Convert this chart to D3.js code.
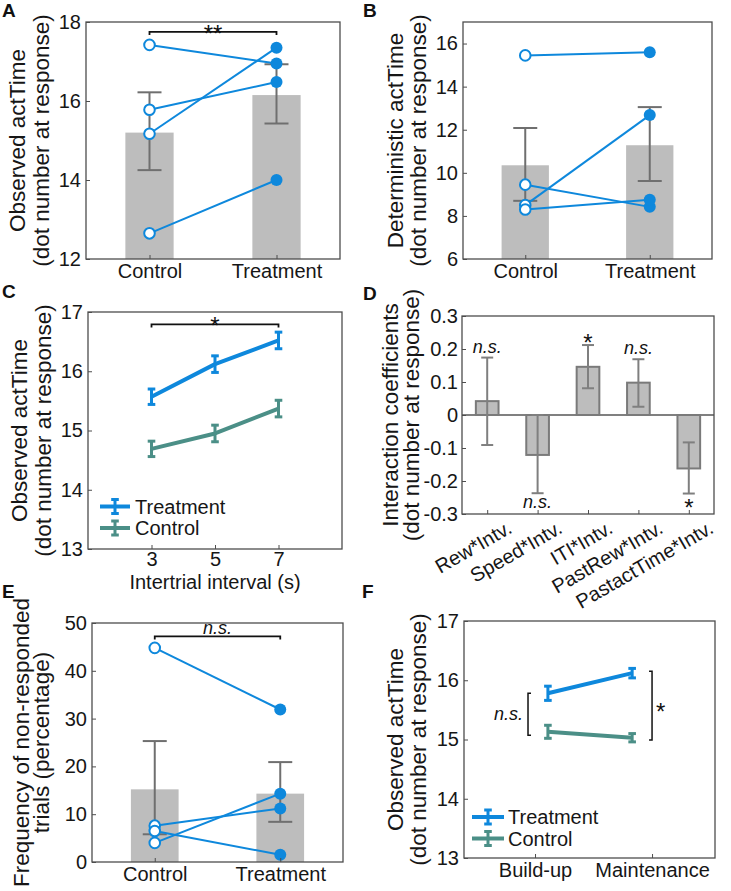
<!DOCTYPE html>
<html><head><meta charset="utf-8">
<script src="https://cdn.jsdelivr.net/npm/d3@7"></script>
<style>
body{margin:0;background:#fff}
svg{display:block}
text{font-family:"Liberation Sans",Arial,Helvetica,sans-serif}
</style>
</head><body>
<svg id="c" width="731" height="891"></svg>
<script>
// ---------- DATA ----------
// Panel A
const aCats = ["Control", "Treatment"];
const aBarMeans = [15.2, 16.15];
const aErrLow = [14.25, 15.43];
const aErrHigh = [16.22, 16.93];
const aControl = [17.42, 15.78, 15.17, 12.65];
const aTreatment = [16.95, 16.48, 17.35, 14.0];
const aTicks = [12, 14, 16, 18];
const aSig = {level: 17.75, label: "**"};
// Panel B
const bCats = ["Control", "Treatment"];
const bBarMeans = [10.35, 11.28];
const bErrLow = [8.7, 9.62];
const bErrHigh = [12.08, 13.05];
const bControl = [15.45, 9.45, 8.5, 8.3];
const bTreatment = [15.6, 8.42, 12.68, 8.75];
const bTicks = [6, 8, 10, 12, 14, 16];
// Panel C
const cITI = [3, 5, 7];
const cTreatMean = [15.57, 16.12, 16.52];
const cTreatErr = [0.13, 0.14, 0.14];
const cCtrlMean = [14.69, 14.95, 15.37];
const cCtrlErr = [0.13, 0.14, 0.14];
const cTicks = [13, 14, 15, 16, 17];
const cSig = {level: 16.79, label: "*"};
// Panel D
const dCats = ["Rew*Intv.", "Speed*Intv.", "ITI*Intv.", "PastRew*Intv.", "PastactTime*Intv."];
const dCoef = [0.042, -0.121, 0.146, 0.098, -0.162];
const dErrLow = [-0.091, -0.237, 0.081, 0.025, -0.238];
const dErrHigh = [0.174, 0.0, 0.212, 0.169, -0.083];
const dSig = ["n.s.", "n.s.", "*", "n.s.", "*"];
const dSigSide = ["above", "below", "above", "above", "below"];
const dTicks = [-0.3, -0.2, -0.1, 0, 0.1, 0.2, 0.3];
// Panel E
const eCats = ["Control", "Treatment"];
const eBarMeans = [15.2, 14.3];
const eErrLow = [5.8, 8.4];
const eErrHigh = [25.3, 20.9];
const eControl = [44.8, 7.6, 4.0, 6.5];
const eTreatment = [31.9, 11.2, 14.3, 1.5];
const eTicks = [0, 10, 20, 30, 40, 50];
const eSig = {level: 47.2, label: "n.s."};
// Panel F
const fPhases = ["Build-up", "Maintenance"];
const fX = [1.11, 1.83];
const fTreatMean = [15.78, 16.12];
const fTreatErr = [0.12, 0.08];
const fCtrlMean = [15.13, 15.03];
const fCtrlErr = [0.11, 0.07];
const fTicks = [13, 14, 15, 16, 17];
const fBracketLeft = {x: 0.94, span: [15.07, 15.78], label: "n.s."};
const fBracketRight = {x: 2.0, span: [14.99, 16.15], label: "*"};

// ---------- STYLE ----------
const BLUE = "#0e88dc", TEAL = "#4b8f87", BARFILL = "#bdbdbd", ERRGRAY = "#6f6f6f",
      AX = "#4d4d4d", TXT = "#161616";
const svg = d3.select("#c");

function makePanel(o) {
  const g = svg.append("g");
  const x = d3.scaleLinear().domain(o.xd).range([o.x0, o.x1]);
  const y = d3.scaleLinear().domain(o.yd).range([o.y1, o.y0]);
  return {g, x, y, o};
}
function axes(p, yt, xt, xf, yf, xpad, ypad) {
  const o = p.o;
  const ya = p.g.append("g").attr("transform", `translate(${o.x0},0)`)
    .call(d3.axisLeft(p.y).tickValues(yt).tickSizeInner(-4).tickSizeOuter(0).tickPadding(ypad || 5)
      .tickFormat(yf || (d => d)));
  const xa = p.g.append("g").attr("transform", `translate(0,${o.y1})`)
    .call(d3.axisBottom(p.x).tickValues(xt).tickSizeInner(-4).tickSizeOuter(0).tickPadding(xpad || 5)
      .tickFormat(xf || (d => d)));
  [ya, xa].forEach(a => {
    a.select(".domain").remove();
    a.selectAll("line").attr("stroke", AX).attr("stroke-width", 1);
    a.selectAll("text").attr("font-size", 20).attr("fill", TXT);
  });
  return {ya, xa};
}
function frame(p) {
  const o = p.o;
  p.g.append("rect").attr("x", o.x0).attr("y", o.y0).attr("width", o.x1 - o.x0).attr("height", o.y1 - o.y0)
    .attr("fill", "none").attr("stroke", AX).attr("stroke-width", 1.3);
}
function ylabel(p, lines, offs) {
  const o = p.o, cy = (o.y0 + o.y1) / 2;
  lines.forEach((t, i) => {
    p.g.append("text").attr("transform", `translate(${o.x0 - offs[i]},${cy}) rotate(-90)`)
      .attr("text-anchor", "middle").attr("font-size", 22.5).attr("fill", TXT).text(t);
  });
}
function panelLetter(t, x, y) {
  svg.append("text").attr("x", x).attr("y", y).attr("font-size", 19).attr("font-weight", "bold")
    .attr("fill", "#111").text(t);
}
function barPanel(p, means, lo, hi, ctrl, treat) {
  const x = p.x, y = p.y, hw = 0.19;
  const y0 = p.o.y1;
  p.g.selectAll(null).data(means).join("rect")
    .attr("x", (d, i) => x(i + 1 - hw)).attr("width", (d, i) => x(i + 1 + hw) - x(i + 1 - hw))
    .attr("y", d => y(d)).attr("height", d => y0 - y(d)).attr("fill", BARFILL);
  const eg = p.g.append("g").attr("stroke", ERRGRAY).attr("stroke-width", 2);
  means.forEach((m, i) => {
    const cx = x(i + 1);
    eg.append("line").attr("x1", cx).attr("x2", cx).attr("y1", y(lo[i])).attr("y2", y(hi[i]));
    [lo[i], hi[i]].forEach(v => eg.append("line").attr("x1", cx - 12).attr("x2", cx + 12).attr("y1", y(v)).attr("y2", y(v)));
  });
  ctrl.forEach((c, k) => {
    p.g.append("line").attr("x1", x(1)).attr("y1", y(c)).attr("x2", x(2)).attr("y2", y(treat[k]))
      .attr("stroke", BLUE).attr("stroke-width", 2);
  });
  p.g.selectAll(null).data(ctrl).join("circle").attr("cx", x(1)).attr("cy", d => y(d)).attr("r", 5.3)
    .attr("fill", "#fff").attr("stroke", BLUE).attr("stroke-width", 2);
  p.g.selectAll(null).data(treat).join("circle").attr("cx", x(2)).attr("cy", d => y(d)).attr("r", 6)
    .attr("fill", BLUE);
}
function sigBar(p, xa, xb, level, label, italic, size, dyText) {
  const y = p.y(level), x1 = p.x(xa), x2 = p.x(xb);
  p.g.append("path").attr("d", `M${x1},${y + 3}V${y}H${x2}V${y + 3}`)
    .attr("fill", "none").attr("stroke", "#111").attr("stroke-width", 1.8);
  p.g.append("text").attr("x", (x1 + x2) / 2).attr("y", y + dyText).attr("text-anchor", "middle")
    .attr("font-size", size).attr("font-style", italic ? "italic" : null).attr("fill", "#111").text(label);
}
function errLine(p, xs, means, errs, color) {
  const x = p.x, y = p.y;
  p.g.append("path").attr("d", d3.line()(xs.map((v, i) => [x(v), y(means[i])])))
    .attr("fill", "none").attr("stroke", color).attr("stroke-width", 4).attr("stroke-linejoin", "round");
  const eg = p.g.append("g").attr("stroke", color).attr("stroke-width", 3);
  xs.forEach((v, i) => {
    const cx = x(v);
    eg.append("line").attr("x1", cx).attr("x2", cx).attr("y1", y(means[i] - errs[i])).attr("y2", y(means[i] + errs[i]));
    [means[i] - errs[i], means[i] + errs[i]].forEach(e =>
      eg.append("line").attr("x1", cx - 3.8).attr("x2", cx + 3.8).attr("y1", y(e)).attr("y2", y(e)));
  });
}
function legend(p, dx0, dx1, dyT, dyC, dxText) {
  const o = p.o;
  [["Treatment", BLUE, dyT], ["Control", TEAL, dyC]].forEach(([t, c, dy]) => {
    const ly = o.y1 - dy, lx0 = o.x0 + dx0, lx1 = o.x0 + dx1, cx = (lx0 + lx1) / 2;
    const g = p.g.append("g").attr("stroke", c);
    g.append("line").attr("x1", lx0).attr("x2", lx1).attr("y1", ly).attr("y2", ly).attr("stroke-width", 4);
    g.append("line").attr("x1", cx).attr("x2", cx).attr("y1", ly - 7).attr("y2", ly + 7).attr("stroke-width", 3);
    [ly - 7, ly + 7].forEach(v => g.append("line").attr("x1", cx - 3.8).attr("x2", cx + 3.8).attr("y1", v).attr("y2", v).attr("stroke-width", 3));
    p.g.append("text").attr("x", o.x0 + dxText).attr("y", ly + 7).attr("font-size", 20).attr("fill", TXT).text(t);
  });
}

// ---------- PANEL A ----------
{
  const p = makePanel({x0: 86, x1: 340, y0: 22, y1: 259, xd: [0.5, 2.5], yd: [12, 18]});
  barPanel(p, aBarMeans, aErrLow, aErrHigh, aControl, aTreatment);
  frame(p);
  axes(p, aTicks, [1, 2], (d, i) => aCats[i]);
  sigBar(p, 1, 2, aSig.level, aSig.label, false, 24, 10);
  ylabel(p, ["Observed actTime", "(dot number at response)"], [61, 37]);
  panelLetter("A", 2, 17);
}
// ---------- PANEL B ----------
{
  const p = makePanel({x0: 463, x1: 712, y0: 22, y1: 259, xd: [0.5, 2.5], yd: [6, 17]});
  barPanel(p, bBarMeans, bErrLow, bErrHigh, bControl, bTreatment);
  frame(p);
  axes(p, bTicks, [1, 2], (d, i) => bCats[i]);
  ylabel(p, ["Deterministic actTime", "(dot number at response)"], [60, 37]);
  panelLetter("B", 363, 17);
}
// ---------- PANEL C ----------
{
  const p = makePanel({x0: 88, x1: 342, y0: 312, y1: 549, xd: [1, 9], yd: [13, 17]});
  frame(p);
  axes(p, cTicks, cITI, null, null, 3);
  errLine(p, cITI, cCtrlMean, cCtrlErr, TEAL);
  errLine(p, cITI, cTreatMean, cTreatErr, BLUE);
  sigBar(p, 3, 7, cSig.level, cSig.label, false, 24, 9.5);
  legend(p, 12, 42, 42.5, 21, 47);
  ylabel(p, ["Observed actTime", "(dot number at response)"], [61, 37]);
  p.g.append("text").attr("x", (p.o.x0 + p.o.x1) / 2).attr("y", 589).attr("text-anchor", "middle")
    .attr("font-size", 20).attr("fill", TXT).text("Intertrial interval (s)");
  panelLetter("C", 2, 298);
}
// ---------- PANEL D ----------
{
  const p = makePanel({x0: 462, x1: 714, y0: 316, y1: 514, xd: [0.5, 5.5], yd: [-0.3, 0.3]});
  const x = p.x, y = p.y;
  const idx = dCats.map((d, i) => i + 1);
  p.g.append("line").attr("x1", p.o.x0).attr("x2", p.o.x1).attr("y1", y(0)).attr("y2", y(0))
    .attr("stroke", "#808080").attr("stroke-width", 1.8);
  p.g.selectAll(null).data(dCoef).join("rect")
    .attr("x", (d, i) => x(i + 1 - 0.225)).attr("width", x(1.225) - x(0.775))
    .attr("y", d => y(Math.max(0, d))).attr("height", d => Math.abs(y(d) - y(0)))
    .attr("fill", BARFILL).attr("stroke", "#7a7a7a").attr("stroke-width", 2);
  const eg = p.g.append("g").attr("stroke", "#7f7f7f").attr("stroke-width", 2);
  dCoef.forEach((v, i) => {
    const cx = x(i + 1);
    eg.append("line").attr("x1", cx).attr("x2", cx).attr("y1", y(dErrLow[i])).attr("y2", y(dErrHigh[i]));
    [dErrLow[i], dErrHigh[i]].forEach(e => eg.append("line").attr("x1", cx - 6).attr("x2", cx + 6).attr("y1", y(e)).attr("y2", y(e)));
  });
  frame(p);
  axes(p, dTicks, idx, () => "", null, 5, 4);
  dCats.forEach((t, i) => {
    p.g.append("text").attr("transform", `translate(${x(i + 1) + 26},${p.o.y1 + 18}) rotate(-30)`)
      .attr("text-anchor", "end").attr("font-size", 20).attr("fill", TXT).text(t);
  });
  dSig.forEach((s, i) => {
    const star = s === "*";
    let ty;
    if (dSigSide[i] === "above") ty = y(dErrHigh[i]) + (star ? 6 : -5);
    else ty = y(dErrLow[i]) + (star ? 22.5 : 14.5);
    p.g.append("text").attr("x", x(i + 1)).attr("y", ty).attr("text-anchor", "middle")
      .attr("font-size", star ? 24 : 18).attr("font-style", star ? null : "italic").attr("fill", "#111").text(s);
  });
  ylabel(p, ["Interaction coefficients", "(dot number at response)"], [64, 43]);
  panelLetter("D", 363, 300);
}
// ---------- PANEL E ----------
{
  const p = makePanel({x0: 92, x1: 343, y0: 623, y1: 862, xd: [0.5, 2.5], yd: [0, 50]});
  barPanel(p, eBarMeans, eErrLow, eErrHigh, eControl, eTreatment);
  frame(p);
  axes(p, eTicks, [1, 2], (d, i) => eCats[i]);
  sigBar(p, 1, 2, eSig.level, eSig.label, true, 18, -2);
  ylabel(p, ["Frequency of non-responded", "trials (percentage)"], [63, 43]);
  panelLetter("E", 2, 598);
}
// ---------- PANEL F ----------
{
  const p = makePanel({x0: 464, x1: 715, y0: 621, y1: 858, xd: [0.393, 2.538], yd: [13, 17]});
  const x = p.x, y = p.y;
  frame(p);
  axes(p, fTicks, [1, 2], (d, i) => fPhases[i]);
  errLine(p, fX, fCtrlMean, fCtrlErr, TEAL);
  errLine(p, fX, fTreatMean, fTreatErr, BLUE);
  const bl = x(fBracketLeft.x), br = x(fBracketRight.x);
  p.g.append("path").attr("d", `M${bl + 3},${y(fBracketLeft.span[1])}H${bl}V${y(fBracketLeft.span[0])}H${bl + 3}`)
    .attr("fill", "none").attr("stroke", "#111").attr("stroke-width", 1.5);
  p.g.append("path").attr("d", `M${br - 3},${y(fBracketRight.span[1])}H${br}V${y(fBracketRight.span[0])}H${br - 3}`)
    .attr("fill", "none").attr("stroke", "#111").attr("stroke-width", 1.5);
  const ml = (y(fBracketLeft.span[0]) + y(fBracketLeft.span[1])) / 2;
  const mr = (y(fBracketRight.span[0]) + y(fBracketRight.span[1])) / 2;
  p.g.append("text").attr("x", bl - 5).attr("y", ml + 6).attr("text-anchor", "end")
    .attr("font-size", 18).attr("font-style", "italic").attr("fill", "#111").text(fBracketLeft.label);
  p.g.append("text").attr("x", br + 4).attr("y", mr + 14.5).attr("font-size", 24).attr("fill", "#111").text(fBracketRight.label);
  legend(p, 8, 40, 41, 19.5, 44);
  ylabel(p, ["Observed actTime", "(dot number at response)"], [61, 38]);
  panelLetter("F", 362, 598);
}
</script>
</body></html>
